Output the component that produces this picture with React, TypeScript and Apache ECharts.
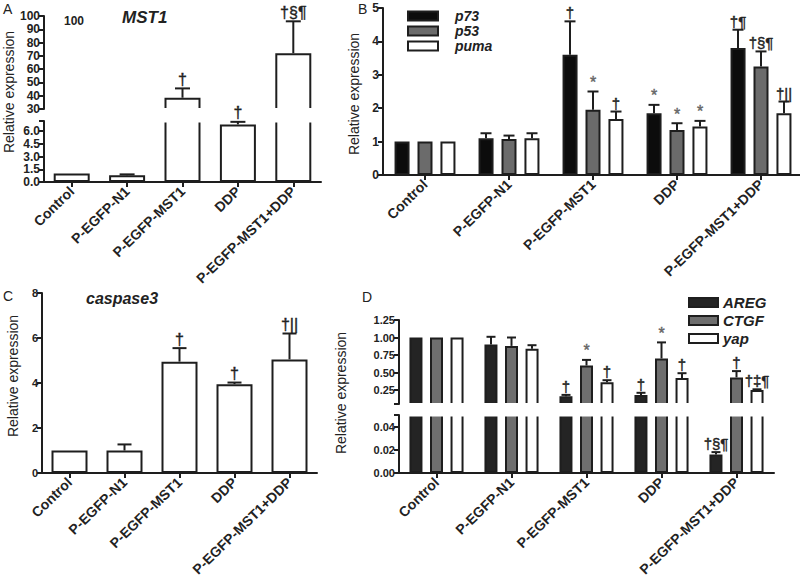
import React, { useEffect, useRef } from "react";
import * as echarts from "echarts";

const categories = ["Control", "P-EGFP-N1", "P-EGFP-MST1", "DDP", "P-EGFP-MST1+DDP"];

// Panel A – MST1 (broken axis)
const mst1Mean = [1.0, 0.8, 38.5, 6.8, 72];
const mst1Err = [0, 0.1, 7, 0.3, 24];
const mst1Marks = ["", "", "†", "†", "†§¶"];
const aLowerLabels = [0, 1.5, 3, 4.5, 6];
const aLowerTicks = [0, 1.5, 3, 4.5, 6, 7.2];

// Panel B – p73 / p53 / puma
const p73Mean = [1.0, 1.1, 3.6, 1.85, 3.8];
const p73Err = [0, 0.15, 1.0, 0.25, 0.55];
const p73Marks = ["", "", "†", "*", "†¶"];
const p53Mean = [1.0, 1.08, 1.95, 1.35, 3.25];
const p53Err = [0, 0.1, 0.55, 0.2, 0.45];
const p53Marks = ["", "", "*", "*", "†§¶"];
const pumaMean = [1.0, 1.1, 1.68, 1.45, 1.85];
const pumaErr = [0, 0.15, 0.22, 0.17, 0.35];
const pumaMarks = ["", "", "†", "*", "†||"];

// Panel C – caspase3
const casp3Mean = [1.0, 1.0, 4.95, 3.95, 5.05];
const casp3Err = [0, 0.27, 0.6, 0.07, 1.15];
const casp3Marks = ["", "", "†", "†", "†||"];

// Panel D – AREG / CTGF / yap (broken axis)
const aregMean = [1.0, 0.9, 0.16, 0.18, 0.016];
const aregErr = [0, 0.11, 0.02, 0.03, 0.002];
const aregMarks = ["", "", "†", "†", "†§¶"];
const ctgfMean = [1.0, 0.88, 0.6, 0.7, 0.43];
const ctgfErr = [0, 0.12, 0.08, 0.23, 0.09];
const ctgfMarks = ["", "", "*", "*", "†"];
const yapMean = [1.0, 0.84, 0.36, 0.42, 0.25];
const yapErr = [0, 0.05, 0.03, 0.07, 0.01];
const yapMarks = ["", "", "†", "†", "†‡¶"];
const dUpperLabels = [0.25, 0.5, 0.75, 1.0, 1.25];
const dUpperTicks = [0.05, 0.25, 0.5, 0.75, 1.0, 1.25];
const dLowerLabels = [0, 0.02, 0.04];
const dLowerTicks = [0, 0.02, 0.04, 0.05];

const FONT = '"Liberation Sans", Arial, sans-serif';
const INK = "#1e1e1e";

function bar(name: string, xi: number, yi: number, data: number[], color: string, barWidth: number, barGap?: string) {
  return {
    type: "bar",
    name,
    xAxisIndex: xi,
    yAxisIndex: yi,
    data,
    barWidth,
    barGap,
    clip: true,
    z: 2,
    itemStyle: { color, borderColor: INK, borderWidth: 2 },
  };
}

function errs(xi: number, yi: number, mean: number[], err: number[], marks: string[], offset: number, capW: number, yMin: number, yMax: number, markSize = 15) {
  const data = mean.map((m, i) => [i, m, m + err[i]]);
  return {
    type: "custom",
    xAxisIndex: xi,
    yAxisIndex: yi,
    data,
    z: 5,
    silent: true,
    renderItem: (params: any, api: any) => {
      const i = api.value(0);
      const m = api.value(1);
      const t = api.value(2);
      const children: any[] = [];
      const lo = Math.max(m, yMin);
      const hi = Math.min(t, yMax);
      if (t > m && hi > lo) {
        const p0 = api.coord([i, lo]);
        const p1 = api.coord([i, hi]);
        const x = p0[0] + offset;
        children.push({ type: "line", shape: { x1: x, y1: p0[1], x2: x, y2: p1[1] }, style: { stroke: INK, lineWidth: 2 } });
        if (t <= yMax) {
          children.push({ type: "line", shape: { x1: x - capW / 2, y1: p1[1], x2: x + capW / 2, y2: p1[1] }, style: { stroke: INK, lineWidth: 2 } });
        }
      }
      const mk = marks[i];
      if (mk && t >= yMin && t <= yMax) {
        const p = api.coord([i, t]);
        const star = mk === "*";
        children.push({
          type: "text",
          x: p[0] + offset,
          y: p[1] - 1,
          style: {
            text: mk,
            align: "center",
            verticalAlign: "bottom",
            fill: star ? "#666" : "#222",
            stroke: star ? "#666" : "#222",
            lineWidth: 0.4,
            fontSize: star ? 16 : markSize,
            fontFamily: FONT,
          },
        });
      }
      return { type: "group", children };
    },
  };
}

function xAxis(gridIndex: number, show: boolean) {
  return {
    type: "category",
    gridIndex,
    data: categories,
    show,
    axisLine: { show: true, lineStyle: { color: INK, width: 2 } },
    axisTick: { show: true, alignWithLabel: true, length: 5, lineStyle: { color: INK, width: 2 } },
    axisLabel: { rotate: 44, fontWeight: "bold", fontSize: 14, color: "#222", margin: 7, fontFamily: FONT, interval: 0 },
    splitLine: { show: false },
  };
}

function yLabel(size: number, weight: string, extra: any = {}) {
  return Object.assign(
    { fontSize: size, fontWeight: weight, color: "#222", margin: 4, fontFamily: FONT, lineHeight: 11, showMinLabel: true, showMaxLabel: true, hideOverlap: false },
    extra
  );
}

function yAxis(gridIndex: number, extra: any, label: any) {
  return Object.assign(
    {
      type: "value",
      gridIndex,
      axisLine: { show: true, lineStyle: { color: INK, width: 2 } },
      axisTick: { show: true, length: 5, lineStyle: { color: INK, width: 2 } },
      axisLabel: label,
      splitLine: { show: false },
    },
    extra
  );
}

function rotText(text: string, x: number, y: number) {
  return {
    type: "text",
    x,
    y,
    rotation: Math.PI / 2,
    style: { text, align: "center", verticalAlign: "middle", fontSize: 14, fontFamily: FONT, fill: "#222" },
  };
}

function plainText(text: string, x: number, y: number, size: number, weight = "normal", style = "normal") {
  return {
    type: "text",
    x,
    y,
    style: { text, fontSize: size, fontWeight: weight, fontStyle: style, fontFamily: FONT, fill: "#222", verticalAlign: "top" },
  };
}

export default function App() {
  const ref = useRef<HTMLDivElement>(null);
  useEffect(() => {
    if (!ref.current) return;
    const chart = echarts.init(ref.current, undefined, { renderer: "svg" });
    const g = (left: number, top: number, width: number, height: number) => ({ left, top, width, height, containLabel: false, outerBoundsMode: "none" });
    const tick = (vals: number[]) => ({ show: true, length: 5, lineStyle: { color: INK, width: 2 }, customValues: vals });

    const option: any = {
      animation: false,
      backgroundColor: "#fff",
      textStyle: { fontFamily: FONT },
      grid: [
        g(44, 16, 277, 93), // A upper
        g(44, 121, 277, 61), // A lower
        g(383, 8, 420, 167), // B
        g(42, 293, 275, 180), // C
        g(399, 320, 375, 84), // D upper
        g(399, 415, 375, 58), // D lower
      ],
      xAxis: [xAxis(0, false), xAxis(1, true), xAxis(2, true), xAxis(3, true), xAxis(4, false), xAxis(5, true)],
      yAxis: [
        yAxis(0, { min: 30, max: 100, interval: 10 }, yLabel(12, "bold")),
        yAxis(1, { min: 0, max: 7.2, axisTick: tick(aLowerTicks) }, yLabel(12, "bold", { customValues: aLowerLabels, formatter: (v: number) => v.toFixed(1) })),
        yAxis(2, { min: 0, max: 5, interval: 1 }, yLabel(12, "bold")),
        yAxis(3, { min: 0, max: 8, interval: 2 }, yLabel(11, "bold")),
        yAxis(4, { min: 0.05, max: 1.25, axisTick: tick(dUpperTicks) }, yLabel(11, "bold", { customValues: dUpperLabels, formatter: (v: number) => v.toFixed(2) })),
        yAxis(5, { min: 0, max: 0.05, axisTick: tick(dLowerTicks) }, yLabel(11, "bold", { customValues: dLowerLabels, formatter: (v: number) => v.toFixed(2) })),
      ],
      legend: [
        {
          data: ["p73", "p53", "puma"],
          orient: "vertical",
          left: 402,
          top: 4,
          itemWidth: 30,
          itemHeight: 9,
          itemGap: 1,
          icon: "rect",
          selectedMode: false,
          textStyle: { fontStyle: "italic", fontWeight: "bold", fontSize: 14, lineHeight: 14, color: "#222", fontFamily: FONT, padding: [0, 0, 0, 12] },
        },
        {
          data: ["AREG", "CTGF", "yap"],
          orient: "vertical",
          left: 683,
          top: 290,
          itemWidth: 29,
          itemHeight: 9,
          itemGap: 3,
          icon: "rect",
          selectedMode: false,
          textStyle: { fontStyle: "italic", fontWeight: "bold", fontSize: 15, lineHeight: 15, color: "#222", fontFamily: FONT },
        },
      ],
      series: [
        // A
        bar("MST1", 0, 0, mst1Mean, "#fff", 36),
        bar("MST1", 1, 1, mst1Mean, "#fff", 36),
        errs(0, 0, mst1Mean, mst1Err, mst1Marks, 0, 15, 30, 100, 16),
        errs(1, 1, mst1Mean, mst1Err, mst1Marks, 0, 15, 0, 7.2, 16),
        // B
        bar("p73", 2, 2, p73Mean, "#0c0c0c", 15, "53%"),
        bar("p53", 2, 2, p53Mean, "#6b6b6b", 15, "53%"),
        bar("puma", 2, 2, pumaMean, "#fff", 15, "53%"),
        errs(2, 2, p73Mean, p73Err, p73Marks, -23, 11, 0, 5),
        errs(2, 2, p53Mean, p53Err, p53Marks, 0, 11, 0, 5),
        errs(2, 2, pumaMean, pumaErr, pumaMarks, 23, 11, 0, 5),
        // C
        bar("caspase3", 3, 3, casp3Mean, "#fff", 36),
        errs(3, 3, casp3Mean, casp3Err, casp3Marks, 0, 14, 0, 8, 16),
        // D upper
        bar("AREG", 4, 4, aregMean, "#242424", 13, "58%"),
        bar("CTGF", 4, 4, ctgfMean, "#6e6e6e", 13, "58%"),
        bar("yap", 4, 4, yapMean, "#fff", 13, "58%"),
        // D lower
        bar("AREG", 5, 5, aregMean, "#242424", 13, "58%"),
        bar("CTGF", 5, 5, ctgfMean, "#6e6e6e", 13, "58%"),
        bar("yap", 5, 5, yapMean, "#fff", 13, "58%"),
        errs(4, 4, aregMean, aregErr, aregMarks, -20.5, 9, 0.05, 1.25),
        errs(4, 4, ctgfMean, ctgfErr, ctgfMarks, 0, 9, 0.05, 1.25),
        errs(4, 4, yapMean, yapErr, yapMarks, 20.5, 9, 0.05, 1.25),
        errs(5, 5, aregMean, aregErr, aregMarks, -20.5, 9, 0, 0.05),
        errs(5, 5, ctgfMean, ctgfErr, ctgfMarks, 0, 9, 0, 0.05),
        errs(5, 5, yapMean, yapErr, yapMarks, 20.5, 9, 0, 0.05),
      ],
      graphic: [
        // break covers (above bars, below error marks)
        { type: "rect", z: 3, shape: { x: 45.5, y: 108, width: 280, height: 14.5 }, style: { fill: "#fff" } },
        { type: "rect", z: 3, shape: { x: 400.5, y: 403, width: 378, height: 13.5 }, style: { fill: "#fff" } },
        // panel letters
        plainText("A", 3, 2, 14),
        plainText("B", 358, 2, 14),
        plainText("C", 3, 289, 14),
        plainText("D", 362, 290, 14),
        // titles
        plainText("MST1", 122, 9, 17, "bold", "italic"),
        plainText("caspase3", 86, 290, 16, "bold", "italic"),
        plainText("100", 64, 15, 12, "bold"),
        // y-axis names
        rotText("Relative expression", 9, 92),
        rotText("Relative expression", 354, 94),
        rotText("Relative expression", 13, 376),
        rotText("Relative expression", 341, 393),
      ],
    };
    chart.setOption(option);
    return () => chart.dispose();
  }, []);
  return <div ref={ref} style={{ position: "fixed", left: 0, top: 0, width: 800, height: 577 }} />;
}
